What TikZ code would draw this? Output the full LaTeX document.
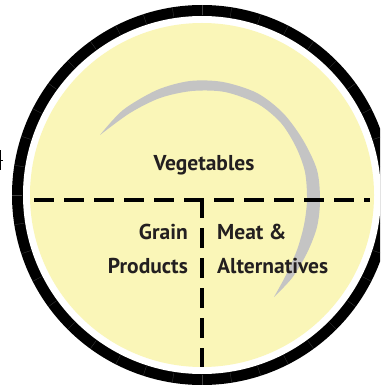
\documentclass[tikz,border=0pt]{standalone}
\usepackage{fontspec}
\setmainfont{PT Sans}
\definecolor{platefill}{HTML}{FAF6B8}
\definecolor{moongray}{HTML}{C4C4C4}
\definecolor{inkgray}{HTML}{231F20}
\tikzset{
  groupname/.style={font=\bfseries\fontsize{21.5}{21.5}\selectfont, text=inkgray, inner sep=0pt},
  divider/.style={line width=4pt, dash pattern=on 20pt off 10pt},
  rimtick/.style={draw=black!75, line width=0.3pt}
}
\begin{document}
\begin{tikzpicture}[x=1pt,y=-1pt]
    \useasboundingbox (0,0) rectangle (380,385);
    \clip (0,0) rectangle (380,385);

    % plate
    \coordinate (c) at (202,195);
    \fill[black] (c) circle (190);
    \fill[white] (c) circle (179);
    \fill[platefill] (c) circle (172);
    \begin{scope}[shift={(202,195)}]
       \foreach \a in {0,9,...,351}
          \draw[rimtick] (\a:180) -- (\a:190);
    \end{scope}

    % crescent
    \fill[moongray] plot[smooth] coordinates {(100,135) (123,110) (157,90) (190,81) (223,82) (257,93) (283,113) (303,140) (317,170) (320,200) (317,227) (307,253) (292,278) (274,297)}
       -- plot[smooth] coordinates {(274,297) (286,275) (297,250) (304,225) (307,200) (305,172) (296,147) (281,123) (258,104) (225,92) (192,91) (160,98) (130,113) (100,135)} -- cycle;

    % dividers
    \coordinate (hl) at (34,200);
    \coordinate (hr) at (370,200);
    \coordinate (vt) at (202,198);
    \coordinate (vb) at (202,367);
    \draw[divider] (hl) -- (hr);
    \draw[divider] (vt) -- (vb);

    % labels
    \node[groupname, anchor=base] (veg) at (204,170) {Vegetables};
    \node[groupname, anchor=base east] (grain) at (188,239) {Grain};
    \node[groupname, anchor=base east] (prod) at (188,273) {Products};
    \node[groupname, anchor=base west] (meat) at (217,239) {Meat \&};
    \node[groupname, anchor=base west] (alt) at (217,273) {Alternatives};

    % clipped mark at the left edge
    \draw[line width=1.4pt] (0.7,150) -- (0.7,170);
    \draw[line width=1pt] (0,160) -- (2.5,160);
\end{tikzpicture}
\end{document}
